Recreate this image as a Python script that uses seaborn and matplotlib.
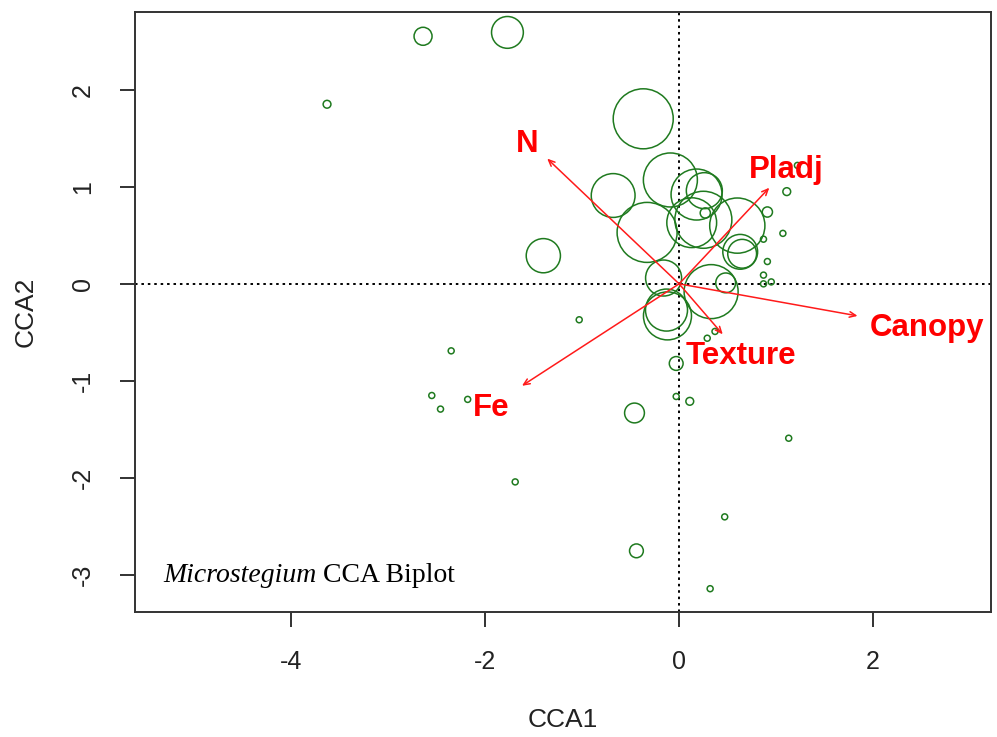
import numpy as np
import pandas as pd
import seaborn as sns
from matplotlib import pyplot as plt

# site scores (CCA1, CCA2) and symbol size (cex)
site_x = [-2.64, -1.77, -3.63, -0.37, -0.68, -0.09, 0.18, 0.26, 0.27, 0.13,
          0.25, 0.60, -0.33, 0.63, 0.65, -1.40, -0.16, 0.33, 0.48, -0.13,
          -0.12, 1.11, 0.91, 1.07, 0.87, 0.91, 0.87, 0.95, 0.87, 0.37,
          0.29, -1.03, -2.35, -2.55, -2.46, -2.18, -0.03, -0.03, 0.11, -0.46,
          -1.69, 1.13, 0.47, -0.44, 0.32, 1.22]
site_y = [2.55, 2.59, 1.85, 1.70, 0.91, 1.07, 0.92, 0.96, 0.73, 0.63,
          0.66, 0.60, 0.53, 0.33, 0.31, 0.29, 0.06, -0.08, 0.01, -0.27,
          -0.33, 0.95, 0.74, 0.52, 0.46, 0.23, 0.09, 0.02, 0.00, -0.49,
          -0.56, -0.37, -0.69, -1.15, -1.29, -1.19, -0.82, -1.16, -1.21, -1.33,
          -2.04, -1.59, -2.40, -2.75, -3.14, 1.22]
site_cex = [3, 5.3, 1.3, 10, 7.3, 9, 8.5, 6, 1.7, 8.3,
            9.5, 9.2, 10, 5.8, 4.8, 5.7, 6, 9, 3.3, 7,
            8, 1.3, 1.7, 1, 1, 1, 1, 1, 1, 1,
            1, 1, 1, 1, 1, 1, 2.3, 1, 1.3, 3.3,
            1, 1, 1, 2.3, 1, 1]

# environmental vectors (arrow tips)
env_names = ['N', 'Pladj', 'Canopy', 'Texture', 'Fe']
env_x = [-1.36, 0.93, 1.84, 0.45, -1.62]
env_y = [1.29, 0.99, -0.33, -0.52, -1.05]

x_ticks = [-4, -2, 0, 2]
y_ticks = [-3, -2, -1, 0, 1, 2]

# label offsets from arrow tips, in pixels
label_offsets = {'N': (-20, 15), 'Pladj': (17, 18), 'Canopy': (69, -12),
                 'Texture': (18, -22), 'Fe': (-31, -22)}

sns.set_style('white')
plt.rcParams['font.family'] = ['Liberation Sans', 'DejaVu Sans']

green = '#1f7a1f'
df = pd.DataFrame({'CCA1': site_x, 'CCA2': site_y, 'cex': site_cex})
size_map = {c: (4.32 * c) ** 2 for c in df['cex'].unique()}

fig = plt.figure(figsize=(9.97, 7.37), dpi=100)
ax = fig.add_axes([0.1354, 0.1696, 0.859, 0.8141])

ax.axhline(0, color='black', ls=(0, (1.3, 2.0)), lw=1.4, zorder=1)
ax.axvline(0, color='black', ls=(0, (1.3, 2.0)), lw=1.4, zorder=1)

sns.scatterplot(data=df, x='CCA1', y='CCA2', size='cex', sizes=size_map,
                legend=False, marker='o', facecolors='none', edgecolor=green,
                linewidth=1.1, ax=ax, zorder=2)

for name, ex, ey in zip(env_names, env_x, env_y):
    ax.annotate('', xy=(ex, ey), xytext=(0, 0),
                arrowprops=dict(arrowstyle='->,head_length=0.45,head_width=0.2',
                                color='#ff1a1a', lw=1.1, shrinkA=0, shrinkB=0),
                zorder=3)
    dx, dy = label_offsets[name]
    ax.annotate(name, xy=(ex, ey), xytext=(dx, dy), textcoords='offset pixels',
                ha='center', va='center', color='#ff0000', fontsize=22.5,
                fontweight='bold', zorder=4)

ax.set_xlim(-5.61, 3.22)
ax.set_ylim(-3.38, 2.80)
ax.set_xticks(x_ticks)
ax.set_yticks(y_ticks)
ax.set_xticklabels([str(t) for t in x_ticks])
ax.set_yticklabels([str(t) for t in y_ticks])
ax.tick_params(axis='both', direction='out', length=11, width=1.3,
               colors='#222222', labelsize=18, bottom=True, left=True)
ax.tick_params(axis='x', pad=16)
ax.tick_params(axis='y', pad=18, labelrotation=90)
plt.setp(ax.get_yticklabels(), va='center')
for sp in ax.spines.values():
    sp.set_color('#333333')
    sp.set_linewidth(1.4)

ax.set_xlabel('CCA1', fontsize=19, color='#222222', labelpad=25)
ax.set_ylabel('CCA2', fontsize=19, color='#222222', labelpad=24)

t1 = ax.text(-5.32, -3.13, 'Microstegium', family='Liberation Serif',
             style='italic', fontsize=20, ha='left', va='bottom', color='black')
ax.annotate(' CCA Biplot', xy=(1, 0), xycoords=t1, family='Liberation Serif',
            fontsize=20, ha='left', va='bottom', color='black')

fig.savefig('out.png', dpi=100)
